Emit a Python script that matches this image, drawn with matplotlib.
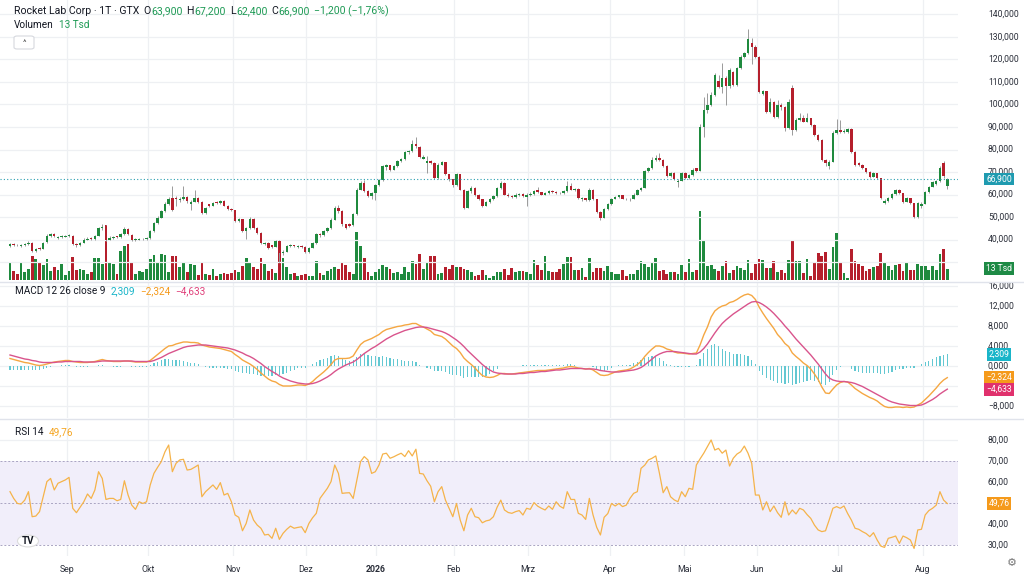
import matplotlib
matplotlib.use('Agg')
import matplotlib.pyplot as plt
from matplotlib.lines import Line2D
from matplotlib.patches import Circle, FancyBboxPatch
from matplotlib.transforms import blended_transform_factory

# ---------------- data (prices in thousands) ----------------
opens = [37.2,38.0,37.7,37.2,37.5,37.9,38.4,35.1,36.3,35.9,38.7,41.5,42.4,40.5,41.1,41.3,41.6,41.8,38.0,37.5,
 38.6,40.0,40.6,40.2,41.8,45.0,46.0,40.0,40.8,41.4,41.0,42.3,44.6,42.2,39.8,40.0,40.1,40.3,40.6,43.9,
 47.2,49.8,52.7,55.6,58.3,58.5,57.6,58.0,59.0,56.0,56.9,58.5,56.5,51.8,55.6,55.0,56.6,56.2,57.1,55.1,
 53.6,53.0,48.2,49.0,43.9,45.2,49.3,45.2,43.0,37.9,38.6,37.5,36.9,39.5,34.0,34.6,37.0,37.5,36.7,37.1,
 36.8,34.5,36.4,38.3,42.4,41.9,43.8,45.2,48.9,54.2,52.6,46.7,46.8,46.4,51.3,62.2,65.0,61.5,59.3,60.8,
 64.4,66.4,72.4,72.9,71.1,72.6,74.8,75.8,78.8,79.2,82.6,81.3,76.0,74.0,75.0,74.0,67.5,73.3,74.3,68.9,
 66.7,64.4,68.9,62.2,54.1,61.5,63.0,60.0,57.8,55.1,56.6,57.8,59.3,63.0,65.2,60.0,59.4,59.0,59.8,60.2,
 59.0,60.0,60.3,62.0,61.0,60.0,60.8,61.5,61.0,60.8,60.5,61.5,63.7,62.0,62.4,58.1,58.3,57.5,62.2,57.8,
 52.4,49.7,53.4,55.6,58.1,59.0,59.6,58.1,57.8,58.1,60.0,61.9,63.0,70.4,71.8,75.5,76.3,75.5,72.6,68.1,
 69.6,65.5,66.2,69.6,67.4,68.5,71.6,70.6,90.1,97.5,99.8,104.2,110.5,107.9,111.6,108.0,114.5,108.5,116.0,121.2,
 122.7,127.5,125.7,121.2,104.8,105.9,96.8,101.2,94.6,99.8,98.8,89.4,107.5,88.6,93.1,93.8,92.4,93.8,90.9,86.4,
 84.2,75.3,72.8,74.6,87.2,88.6,87.9,87.9,89.0,79.0,74.0,73.2,71.6,70.1,67.9,69.4,67.2,56.3,57.0,58.3,
 60.1,62.0,60.5,56.8,58.3,56.1,50.1,55.0,56.0,61.2,63.5,64.8,65.9,74.0,63.9]
highs = [38.6,38.4,38.1,38.0,38.3,39.2,38.8,36.4,36.8,39.0,42.3,43.0,42.8,41.8,42.0,42.2,42.6,42.1,38.5,39.0,
 40.5,41.0,41.0,42.0,45.8,47.0,46.3,41.6,41.8,41.8,42.9,45.5,45.3,42.5,40.6,40.7,40.9,41.0,44.3,47.8,
 50.3,53.3,56.5,58.8,63.7,59.2,59.0,63.7,59.4,57.5,62.0,59.0,57.0,54.6,56.0,56.8,57.0,57.6,57.4,55.4,
 54.2,53.3,49.8,49.3,45.8,50.2,49.7,45.5,43.3,39.0,38.9,37.8,39.7,40.0,35.5,37.6,37.9,37.8,37.5,37.4,
 37.0,36.8,38.7,42.8,42.8,44.2,45.7,49.4,55.0,55.5,53.0,47.0,47.2,51.8,63.0,66.0,66.5,61.8,61.3,64.8,
 66.9,73.2,73.5,73.2,73.0,75.3,76.3,79.3,79.8,84.3,85.5,81.7,77.5,77.0,75.5,74.3,73.8,74.8,74.6,69.3,
 67.0,69.4,69.2,62.5,62.0,63.7,63.3,60.3,58.1,57.1,58.3,59.8,63.5,66.0,65.5,60.8,60.0,60.5,60.7,60.5,
 60.6,61.0,62.0,63.2,61.3,61.3,62.0,61.8,61.4,61.2,62.0,66.0,65.0,62.9,62.7,59.0,58.6,62.7,62.5,58.1,
 52.7,53.9,56.1,58.6,59.5,60.0,59.9,58.4,58.6,60.5,62.4,63.5,71.0,72.3,76.5,77.5,78.5,75.8,72.9,70.1,
 69.9,66.8,70.1,69.9,69.0,71.6,72.0,91.5,103.5,105.0,105.5,114.0,113.0,118.5,112.5,116.0,115.0,116.5,121.8,123.5,
 133.5,129.5,126.3,121.5,106.5,106.2,103.0,101.5,102.0,100.5,99.2,102.5,108.5,94.0,96.0,95.5,96.0,94.2,91.2,86.8,
 84.5,75.6,75.3,88.2,93.5,93.0,89.0,89.6,89.5,79.3,74.5,73.5,71.9,70.5,69.9,69.7,67.5,57.8,58.8,60.6,
 62.6,62.4,60.8,58.8,58.6,56.4,56.6,56.5,61.7,64.0,66.2,66.5,72.5,74.8,67.2]
lows = [36.8,37.0,37.0,36.9,37.1,37.6,34.6,34.3,35.4,35.6,38.4,41.0,41.0,40.2,40.8,41.0,41.2,37.5,36.8,37.2,
 38.3,39.6,39.8,39.9,41.5,44.3,39.5,39.6,40.4,40.6,40.7,42.0,42.0,39.4,39.4,39.7,39.8,40.0,40.3,43.5,
 46.8,49.4,52.3,55.2,52.5,55.0,56.5,57.6,56.3,53.0,56.5,56.2,51.2,51.4,54.4,54.7,55.8,55.9,54.7,53.0,
 52.6,47.8,47.6,43.3,40.2,44.8,44.8,42.6,38.2,37.4,36.0,36.4,36.6,30.0,33.0,34.3,36.7,36.7,36.3,36.4,
 34.1,34.2,36.1,38.0,41.2,41.6,43.4,44.9,48.6,52.0,46.2,44.8,45.6,46.0,51.0,61.8,61.0,58.8,58.0,57.5,
 64.0,66.0,71.0,70.6,70.8,72.3,74.4,75.5,78.2,78.9,80.8,76.2,75.6,69.5,73.6,67.0,67.0,72.9,68.5,66.0,
 63.5,64.0,61.8,53.5,53.8,60.8,59.5,57.4,54.6,54.8,56.3,57.5,59.0,62.6,59.6,58.8,58.5,58.6,59.4,58.9,
 55.0,59.5,60.0,60.6,59.6,59.7,60.4,60.6,60.3,60.1,60.2,61.2,61.8,61.6,58.1,57.0,57.0,57.2,57.4,52.0,
 48.7,49.4,53.1,55.3,57.8,58.6,57.8,57.4,57.3,57.8,59.7,61.6,62.7,70.0,71.5,75.1,75.1,72.2,67.7,67.8,
 66.3,63.2,65.9,67.0,67.0,68.2,69.8,70.3,85.5,96.0,99.3,103.8,107.3,105.0,99.8,107.5,108.0,108.0,115.6,120.8,
 122.3,118.0,120.5,105.0,104.0,96.2,96.3,94.0,94.2,97.5,88.0,89.0,86.5,88.2,92.6,92.0,92.0,90.5,86.0,83.6,
 74.8,72.8,71.5,74.3,86.8,87.5,87.4,87.5,78.5,72.7,72.6,71.2,69.7,67.5,67.6,66.8,57.9,55.8,56.7,58.0,
 59.8,60.1,56.4,56.5,55.7,49.6,49.8,53.8,55.7,60.9,63.2,64.3,65.6,67.5,62.4]
closes = [37.9,37.5,37.4,37.6,37.9,38.6,35.0,35.9,35.8,38.6,41.6,42.3,41.6,41.2,41.5,41.7,42.0,37.9,37.4,38.6,
 40.0,40.4,40.2,41.6,45.2,45.4,40.0,40.8,41.3,41.0,42.3,44.5,42.3,39.8,40.1,40.3,40.4,40.6,43.8,47.2,
 49.7,52.6,55.6,58.1,53.1,57.8,58.1,59.0,57.0,56.8,58.5,56.6,51.6,54.1,55.0,56.3,56.2,57.1,55.1,53.4,
 53.0,48.2,49.2,43.8,45.2,49.2,45.2,43.0,38.6,38.5,36.4,36.9,39.3,34.2,34.6,37.1,37.4,37.1,37.0,36.8,
 34.5,36.4,38.3,42.3,41.9,43.8,45.2,48.9,54.1,52.6,46.7,45.2,46.2,51.2,62.2,65.2,61.5,59.3,60.8,64.4,
 66.4,72.6,72.9,71.1,72.6,74.8,75.8,78.8,79.2,82.6,81.4,76.7,76.8,74.8,74.0,67.4,73.3,74.3,68.9,66.7,
 64.4,68.9,62.2,54.1,61.5,63.0,60.0,57.8,55.1,56.6,57.8,59.3,63.0,65.2,60.0,59.3,59.0,60.0,60.2,59.3,
 60.0,60.3,61.5,61.0,60.0,60.8,61.5,61.0,60.7,60.5,61.5,63.7,62.2,62.4,58.5,58.6,57.5,62.2,57.8,52.4,
 49.7,53.4,55.6,58.1,59.0,59.6,58.1,57.8,58.1,60.0,61.9,63.0,70.4,71.8,75.5,76.3,75.5,72.6,68.1,69.6,
 66.7,66.2,69.6,67.4,68.5,71.1,70.6,90.1,97.5,99.8,104.2,113.1,107.9,111.6,108.0,115.3,108.5,116.0,121.2,122.7,
 129.1,125.7,121.2,105.7,105.9,96.8,101.2,94.6,99.8,98.8,89.4,101.2,88.6,93.1,93.8,92.4,93.8,90.9,86.4,84.2,
 75.3,73.8,74.6,87.2,88.6,87.9,88.4,89.0,79.0,73.1,73.2,71.6,70.1,67.9,69.4,67.2,58.3,57.0,58.3,60.1,
 62.0,60.5,56.8,58.3,56.1,50.1,56.1,56.0,61.2,63.5,65.7,65.9,72.0,68.1,66.9]
volume = [19.7,10.2,6.3,19.7,9,13,27.6,24.8,20.9,17,24.8,10.2,15,11.8,18.1,5.1,10.2,26.8,11.8,13,
 11,6.3,9,26,26,18.9,65,19.7,18.1,6.3,33.5,39.4,42.5,20.9,6.3,10.2,9,13,24.8,28.8,
 19.7,30,29.6,9,27.6,27.6,15,20.9,9,18.9,17,5.1,20.9,7.1,5.1,13,3.9,7.1,7.9,6.3,
 7.9,11,9,15.8,26,20.9,15,13,26,18.9,10.2,13,7.9,46.5,26,15,6.3,7.9,3.9,5.1,
 7.1,3.9,3.9,22,7.9,5.1,10.2,13,15,13,20.9,17,9,6.3,56.3,39.4,26,9,3.9,9,
 13,17,15,13,7.9,9,7.1,15,9,22,18.9,30,13,20.9,27.6,27.6,7.1,7.9,15,13,
 17,15,15,13,11,9,3.9,5.1,11,5.1,1.5,3.9,9,9,13,5.1,14.2,9,10.2,10.2,
 9,6.3,23.6,17,11.8,27.6,10.2,9,9,13,18.1,26.8,26.8,11.8,11.8,14.2,3.2,26,9,14.2,
 14.2,10.2,15.8,9,7.1,6.3,11.8,3.9,6.3,6.3,11,22,18.1,15,20.9,26,10.2,11.8,6.3,9,
 9,6.3,17,9,24.8,9,11,81,47,15.8,17.7,12.6,9.9,15.8,21.7,7.9,11.8,16.5,13.8,11.8,
 23.6,7.9,18.9,24.8,23.6,13.8,13.8,22.5,8.7,11.8,7.9,23.6,45.3,21.7,21.7,7.9,24.8,3.9,19.7,31.5,
 27.6,32.3,12.6,38.6,55.2,19.7,7.9,2,36.6,21.7,18.9,15.8,9.9,12.6,15,16.5,31.5,20.5,16.5,11.8,
 17.7,18.9,9.9,19.7,11.8,11.8,18.9,15.8,16.5,11.8,15.8,11.8,30.7,36.2,13]
macd = [1.5,1.3,1.1,0.9,0.7,0.6,0.4,0.2,0.1,0.2,0.4,0.6,0.8,0.9,1.0,1.1,1.1,0.9,0.8,0.7,
 0.7,0.7,0.8,0.9,1.1,1.3,1.1,1.0,0.9,0.9,0.9,1.0,1.0,0.9,0.8,0.8,0.8,0.8,1.1,1.7,
 2.3,2.9,3.5,4.0,4.1,4.4,4.6,4.8,4.8,4.7,4.7,4.6,4.2,4.0,3.8,3.7,3.6,3.5,3.3,3.1,
 2.9,2.3,1.8,1.2,0.8,0.4,-0.1,-0.7,-1.4,-2.0,-2.6,-3.0,-3.2,-3.7,-4.0,-4.0,-4.0,-3.9,-3.8,-3.8,
 -3.9,-3.6,-3.1,-2.4,-1.8,-1.2,-0.5,0.3,1.2,1.5,1.5,1.5,1.6,2.0,3.2,4.3,4.9,5.2,5.5,5.9,
 6.3,6.9,7.3,7.5,7.7,7.9,8.0,8.2,8.3,8.5,8.5,8.1,7.8,7.4,7.0,6.3,6.1,5.9,5.4,4.7,
 4.0,3.5,2.7,1.6,0.9,0.3,-0.4,-1.2,-1.9,-2.2,-2.3,-2.2,-1.9,-1.5,-1.5,-1.6,-1.6,-1.5,-1.4,-1.3,
 -1.2,-1.1,-1.0,-0.9,-0.9,-0.9,-0.8,-0.7,-0.6,-0.5,-0.4,-0.2,-0.1,-0.2,-0.4,-0.5,-0.6,-0.5,-0.8,-1.3,
 -1.8,-1.9,-1.8,-1.5,-1.2,-1.0,-0.9,-0.8,-0.6,-0.2,0.3,0.9,1.9,2.7,3.4,4.0,4.0,3.8,3.4,3.2,
 2.8,2.6,2.6,2.5,2.4,2.5,2.6,4.2,6.2,7.8,9.8,11.0,11.6,12.0,12.2,12.7,12.9,13.3,13.8,14.2,
 14.4,14.1,13.3,11.8,10.6,9.5,8.5,7.5,6.3,5.5,4.5,3.9,2.6,1.9,1.3,0.6,0.1,-0.6,-1.6,-2.7,
 -4.2,-5.4,-5.5,-4.6,-3.8,-3.3,-3.1,-3.2,-3.8,-4.5,-5.0,-5.5,-5.9,-6.3,-6.6,-7.0,-7.6,-8.1,-8.3,-8.3,
 -8.2,-8.2,-8.3,-8.2,-8.3,-8.2,-7.8,-7.4,-6.7,-6.0,-5.2,-4.4,-3.5,-2.8,-2.324]
signal = [2.2,2.0,1.8,1.6,1.4,1.3,1.1,1.0,0.8,0.7,0.7,0.7,0.7,0.8,0.8,0.9,0.9,0.9,0.9,0.9,
 0.8,0.8,0.8,0.8,0.9,1.0,1.0,1.0,1.0,1.0,1.0,1.0,1.0,1.0,0.9,0.9,0.9,0.9,0.9,1.1,
 1.4,1.7,2.1,2.5,2.8,3.1,3.4,3.7,3.9,4.0,4.1,4.2,4.2,4.2,4.1,4.0,3.9,3.8,3.7,3.6,
 3.4,3.2,2.9,2.6,2.2,1.9,1.5,1.0,0.5,-0.1,-0.6,-1.1,-1.5,-2.0,-2.4,-2.7,-3.0,-3.2,-3.4,-3.5,
 -3.6,-3.6,-3.5,-3.3,-3.0,-2.6,-2.2,-1.7,-1.1,-0.6,-0.2,0.2,0.5,0.8,1.3,1.9,2.5,3.0,3.5,3.9,
 4.4,4.9,5.4,5.8,6.2,6.5,6.8,7.1,7.3,7.5,7.7,7.8,7.8,7.7,7.5,7.3,7.1,6.9,6.6,6.2,
 5.7,5.2,4.6,3.9,3.1,2.4,1.7,1.0,0.3,-0.3,-0.8,-1.2,-1.4,-1.5,-1.6,-1.6,-1.6,-1.6,-1.5,-1.5,
 -1.4,-1.3,-1.3,-1.2,-1.1,-1.1,-1.0,-0.9,-0.8,-0.8,-0.7,-0.6,-0.5,-0.5,-0.5,-0.5,-0.6,-0.6,-0.6,-0.7,
 -0.9,-1.0,-1.1,-1.2,-1.2,-1.2,-1.1,-1.0,-0.9,-0.8,-0.6,-0.3,0.2,0.8,1.4,2.0,2.4,2.7,2.9,2.9,
 2.9,2.8,2.7,2.6,2.5,2.4,2.4,2.8,3.5,4.4,5.5,6.6,7.6,8.5,9.2,9.8,10.4,10.9,11.4,11.9,
 12.4,12.8,12.9,12.7,12.3,11.8,11.2,10.5,9.7,8.9,8.0,7.2,6.3,5.4,4.6,3.8,3.0,2.2,1.3,0.4,
 -0.6,-1.6,-2.4,-2.8,-3.0,-3.1,-3.1,-3.2,-3.3,-3.5,-3.8,-4.1,-4.5,-4.9,-5.3,-5.7,-6.1,-6.5,-6.9,-7.2,
 -7.4,-7.6,-7.7,-7.8,-7.9,-7.9,-7.9,-7.8,-7.5,-7.1,-6.7,-6.2,-5.6,-5.1,-4.633]
rsi = [55.4,52.2,49.8,49.5,51.4,55.4,43.5,43.8,45.9,53.0,60.2,61.7,56.2,59.4,60.2,61.0,62.2,47.5,45.4,48.0,
 50.6,54.3,52.2,56.2,64.9,61.7,51.7,52.2,52.2,51.1,51.7,60.6,53.8,49.0,47.0,50.6,49.8,50.6,58.6,64.1,
 67.0,69.7,74.4,77.6,64.9,68.9,70.5,70.8,65.7,66.0,67.0,68.1,53.0,55.4,57.0,58.6,56.5,59.7,53.8,54.6,
 50.6,44.3,43.2,36.8,40.3,46.7,41.9,39.5,38.0,34.8,35.1,33.2,38.0,32.7,35.6,37.5,39.0,38.0,38.4,38.7,
 35.9,40.3,43.0,45.1,52.2,54.6,57.0,60.2,68.1,64.1,54.6,54.8,54.9,52.2,61.0,69.7,72.1,70.5,64.1,64.9,
 68.1,73.3,73.7,71.3,72.0,72.9,73.7,72.1,74.9,72.4,75.6,64.1,63.8,60.6,58.0,50.6,55.4,57.8,51.4,47.5,
 43.5,49.8,41.9,36.8,44.3,47.5,43.5,43.0,40.6,41.5,41.9,43.5,48.0,51.4,46.7,45.5,45.1,45.9,46.4,44.3,
 47.5,47.0,50.2,48.5,47.5,46.7,48.6,47.0,50.6,48.5,47.5,55.4,51.7,51.7,45.1,44.3,42.2,52.2,44.3,38.4,
 34.8,43.2,45.0,49.8,48.6,49.8,48.3,49.0,52.2,54.6,55.4,66.5,68.0,70.5,71.3,72.4,64.1,54.9,57.8,53.0,
 51.5,50.6,55.4,53.0,57.0,56.5,68.1,71.0,73.7,76.8,80.0,75.2,76.0,73.7,75.2,67.6,71.3,73.3,74.4,77.1,
 73.7,68.9,53.8,53.8,46.7,50.6,45.9,48.6,45.4,43.2,50.6,44.3,46.7,44.8,47.5,46.7,44.5,42.7,39.5,37.2,
 36.4,36.8,42.0,47.5,48.3,47.5,48.6,45.0,41.9,38.0,37.5,36.4,35.5,34.0,35.9,32.4,29.5,28.9,33.2,33.7,
 34.3,30.8,34.3,33.5,32.4,28.4,37.2,37.5,44.3,46.4,47.5,49.0,55.4,51.4,49.76]

month_labels = ['Sep', 'Okt', 'Nov', 'Dez', '2026', 'Feb', 'Mrz', 'Apr', 'Mai', 'Jun', 'Jul', 'Aug']
month_pos = [15.4, 37.4, 60.5, 80.2, 99.2, 120.3, 140.4, 162.6, 182.7, 202.4, 224.4, 247.4]
price_grid = [140, 130, 120, 110, 100, 90, 80, 70, 60, 50, 40, 30]
price_labels = [140, 130, 120, 110, 100, 90, 80, 70, 60, 50, 40]
macd_grid = [16, 12, 8, 4, 0, -4, -8]
macd_labels = [(16, '16,000'), (12, '12,000'), (8, '8,000'), (4, '4,000'), (0, '0,000'), (-8, '\u22128,000')]
rsi_labels = [(80, '80,00'), (70, '70,00'), (60, '60,00'), (40, '40,00'), (30, '30,00')]
last_close = 66.9
last_volume = 13
macd_last, signal_last, hist_last = -2.324, -4.633, 2.309

# ---------------- figure ----------------
plt.rcParams['font.family'] = ['Roboto', 'DejaVu Sans']
W, H = 1024, 580
fig = plt.figure(figsize=(W / 100, H / 100), dpi=100)
fig.patch.set_facecolor('white')

def fy(py):
    return 1 - py / H

PLOT_W = 958
xlim = (-2.71, 256.9)
GREEN = '#1f8a3e'
RED = '#b51f2c'
GRID = '#eef0f3'
TXT = '#131722'
AX_TXT = '#2a2e39'

ax_vol = fig.add_axes([0, fy(281), PLOT_W / W, 281 / H])
ax_p = fig.add_axes([0, fy(281), PLOT_W / W, 281 / H])
ax_m = fig.add_axes([0, fy(418), PLOT_W / W, 135 / H])
ax_r = fig.add_axes([0, fy(556), PLOT_W / W, 136 / H])
for a in (ax_vol, ax_p, ax_m, ax_r):
    a.set_xlim(*xlim)
    for s in a.spines.values():
        s.set_visible(False)
    a.set_xticks([])
    a.set_yticks([])
ax_p.patch.set_visible(False)

ax_p.set_ylim(21.6, 146.4)
ax_vol.set_ylim(-1.5, 330)
ax_m.set_ylim(-10.4, 16.6)
ax_r.set_ylim(24.8, 89.5)

n = len(closes)
x = list(range(n))
colors = [GREEN if c >= o else RED for o, c in zip(opens, closes)]

# grids
for a in (ax_vol, ax_m, ax_r):
    for mp in month_pos:
        a.axvline(mp, color=GRID, lw=0.9, zorder=0)
for t in price_grid:
    ax_p.axhline(t, color=GRID, lw=0.9, zorder=0)
for t in macd_grid:
    ax_m.axhline(t, color=GRID, lw=0.9, zorder=0)
for t in (80, 60, 40):
    ax_r.axhline(t, color=GRID, lw=0.9, zorder=0)

# volume
ax_vol.bar(x, volume, width=0.75, color=colors, zorder=1)

# candles
ax_p.vlines(x, lows, highs, color='#9a9a9a', lw=0.7, zorder=2)
bottoms = [min(o, c) for o, c in zip(opens, closes)]
heights = [max(abs(c - o), 0.3) for o, c in zip(opens, closes)]
ax_p.bar(x, heights, bottom=bottoms, width=0.66, color=colors, zorder=3)
ax_p.axhline(last_close, color='#2a9fb0', lw=0.8, ls=(0, (1, 2)), zorder=4)

# MACD
hist = [m - s for m, s in zip(macd, signal)]
ax_m.bar(x, hist, width=0.32, color='#63c8d2', zorder=1)
ax_m.plot(x, macd, color='#f5a742', lw=1.0, zorder=3)
ax_m.plot(x, signal, color='#d9548c', lw=1.0, zorder=3)

# RSI
ax_r.axhspan(30, 70, color='#f1eefa', zorder=0, lw=0)
for lv in (70, 50, 30):
    ax_r.axhline(lv, color='#a9a4c2', lw=0.7, ls=(0, (2, 2)), zorder=1)
ax_r.plot(x, rsi, color='#f5b34a', lw=0.9, zorder=3)

# separators
for py in (282, 419):
    fig.add_artist(Line2D([0, 1], [fy(py), fy(py)], color='#e0e3eb', lw=1.0))

# right scales
LX = 988 / PLOT_W
BX = 999 / PLOT_W
lab_kw = dict(fontsize=6.2, color=AX_TXT, ha='left', va='center')
for t in price_labels:
    ax_p.text(LX, t, f'{t*1000:,.0f}', transform=ax_p.get_yaxis_transform(), **lab_kw)
for t, lab in macd_labels:
    ax_m.text(LX, t, lab, transform=ax_m.get_yaxis_transform(), **lab_kw)
for t, lab in rsi_labels:
    ax_r.text(LX, t, lab, transform=ax_r.get_yaxis_transform(), **lab_kw)

def box(ax, y, txt, fc):
    ax.text(BX, y, txt, transform=ax.get_yaxis_transform(), fontsize=6.2,
            color='white', ha='center', va='center',
            bbox=dict(boxstyle='square,pad=0.22', fc=fc, ec='none'), zorder=10)

box(ax_p, last_close, '66,900', '#1f9bb0')
box(ax_vol, last_volume, '13 Tsd', '#1e8a45')
box(ax_m, hist_last, '2,309', '#19b5c9')
box(ax_m, macd_last, '\u22122,324', '#f59a1b')
box(ax_m, signal_last - 0.1, '\u22124,633', '#e0316d')
box(ax_r, rsi[-1], '49,76', '#f59a1b')

# x labels
trx = blended_transform_factory(ax_r.transData, fig.transFigure)
for mp, lab in zip(month_pos, month_labels):
    ax_r.text(mp, fy(570), lab, transform=trx, ha='center', va='center', fontsize=6.3,
              color=AX_TXT, fontweight='bold' if lab == '2026' else 'normal', clip_on=False)

# header texts placed sequentially
renderer = fig.canvas.get_renderer()

def seq(px, py, segs, size):
    cur = px
    for s, col, gap in segs:
        t = fig.text(cur / W, fy(py), s, color=col, fontsize=size, va='center', ha='left')
        bb = t.get_window_extent(renderer=renderer)
        cur = bb.x1 + gap

HG = '#1e9a55'
seq(14, 11, [('Rocket Lab Corp \u00b7 1T \u00b7 GTX', TXT, 4),
             ('O', TXT, 0.5), ('63,900', HG, 4),
             ('H', TXT, 0.5), ('67,200', HG, 4),
             ('L', TXT, 0.5), ('62,400', HG, 4),
             ('C', TXT, 0.5), ('66,900', HG, 4),
             ('\u22121,200 (\u22121,76%)', HG, 0)], 7.6)
seq(14, 25, [('Volumen', TXT, 5), ('13 Tsd', HG, 0)], 7.2)
fig.add_artist(FancyBboxPatch((14 / W, fy(49)), 20 / W, 13 / H, boxstyle='round,pad=0,rounding_size=0.003',
                              transform=fig.transFigure, fc='white', ec='#d6d8de', lw=0.8))
fig.text(24 / W, fy(43), '^', fontsize=6, color='#444', ha='center', va='center')

seq(15, 291, [('MACD 12 26 close 9', TXT, 5), ('2,309', '#19b5c9', 5),
              ('\u22122,324', '#f59a1b', 5), ('\u22124,633', '#e0407a', 0)], 7.2)
seq(15, 432, [('RSI 14', TXT, 5), ('49,76', '#f5a623', 0)], 7.2)

# logo and gear
fig.add_artist(Circle((28 / W, fy(541)), 10.5 / W, transform=fig.transFigure, fc='white', ec='#dcdcdc', lw=0.8, zorder=20))
fig.text(28 / W, fy(541), 'TV', fontsize=7, fontweight='bold', color=TXT, ha='center', va='center', zorder=21)
fig.text(1012 / W, fy(563), '\u2699', fontsize=8, color='#777', ha='center', va='center')

fig.savefig('out.png', dpi=100, facecolor='white')
